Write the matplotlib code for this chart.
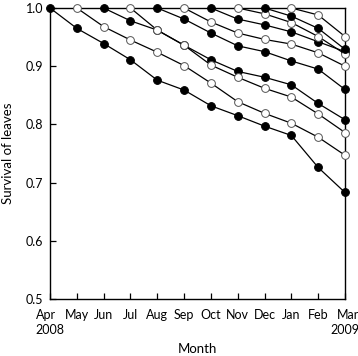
import matplotlib
matplotlib.use('Agg')
import matplotlib.pyplot as plt

months = ['Apr\n2008', 'May', 'Jun', 'Jul', 'Aug', 'Sep', 'Oct', 'Nov', 'Dec', 'Jan', 'Feb', 'Mar\n2009']

# survival per leaf cohort (cohort named by month of emergence), ending in Mar 2009
c_apr = [1.0, 0.965, 0.939, 0.911, 0.876, 0.859, 0.832, 0.815, 0.797, 0.781, 0.726, 0.683]
c_may = [1.0, 0.968, 0.945, 0.924, 0.901, 0.871, 0.839, 0.819, 0.802, 0.778, 0.747]
c_jun = [1.0, 0.978, 0.962, 0.936, 0.911, 0.891, 0.881, 0.868, 0.836, 0.808]
c_jul = [1.0, 0.962, 0.936, 0.902, 0.881, 0.862, 0.847, 0.818, 0.786]
c_aug = [1.0, 0.981, 0.957, 0.935, 0.925, 0.909, 0.895, 0.860]
c_sep = [1.0, 0.976, 0.957, 0.946, 0.938, 0.923, 0.900]
c_oct = [1.0, 0.981, 0.971, 0.959, 0.942, 0.925]
c_nov = [1.0, 0.990, 0.975, 0.951, 0.921]
c_dec = [1.0, 0.986, 0.965, 0.929]
c_jan = [1.0, 0.988, 0.951]

cohorts = [c_apr, c_may, c_jun, c_jul, c_aug, c_sep, c_oct, c_nov, c_dec, c_jan]
fills = ['black', 'white'] * 5

plt.rcParams['font.family'] = ['Lato', 'DejaVu Sans']
fig = plt.figure(figsize=(3.58, 3.56), dpi=100)
ax = fig.add_axes([50/358, 1 - 299/356, (345 - 50)/358, (299 - 8)/356])

n = len(months)
for vals, fc in zip(cohorts, fills):
    start = n - len(vals)
    xs = list(range(start, n))
    ax.plot(xs, vals, color='black', lw=0.9, marker='o', markersize=5.6,
            markerfacecolor=fc, markeredgecolor='black' if fc == 'black' else '#555555',
            markeredgewidth=0.7, clip_on=False, zorder=3)

ax.set_xlim(0, n - 1)
ax.set_ylim(0.5, 1.0)
ax.set_xticks(range(n))
ax.set_xticklabels(months, fontsize=9, linespacing=1.35)
lbls = ax.get_xticklabels()
lbls[0].set_multialignment('left')
lbls[-1].set_multialignment('right')
ax.set_yticks([0.5, 0.6, 0.7, 0.8, 0.9, 1.0])
ax.set_yticklabels(['0.5', '0.6', '0.7', '0.8', '0.9', '1.0'], fontsize=9)
ax.tick_params(axis='both', direction='in', length=4, width=0.9)
ax.tick_params(axis='x', pad=7)
ax.tick_params(axis='y', pad=5)
for s in ax.spines.values():
    s.set_linewidth(1.0)
ax.set_xlabel('Month', fontsize=9.5, labelpad=5)
ax.set_ylabel('Survival of leaves', fontsize=9.5, labelpad=8)

fig.savefig('out.png', dpi=100)
